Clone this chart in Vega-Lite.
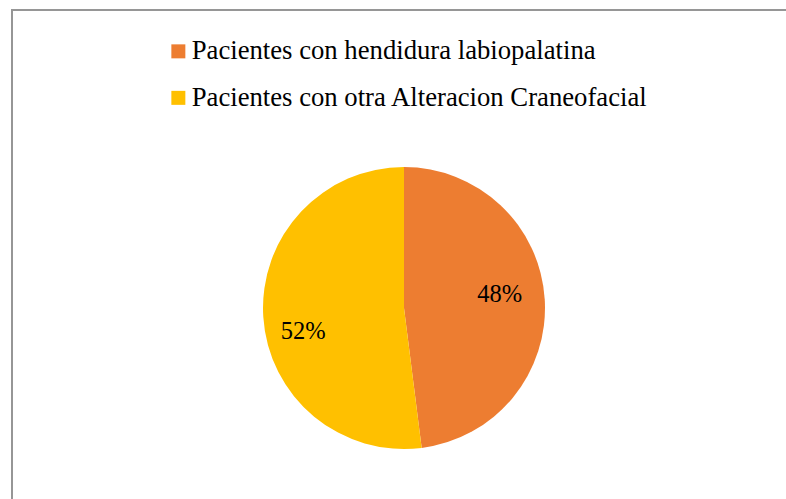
{
  "$schema": "https://vega.github.io/schema/vega-lite/v6.json",
  "autosize": {"type": "none"},
  "width": 784,
  "height": 596,
  "padding": {"left": 12, "top": 10, "right": -10, "bottom": -107},
  "background": "white",
  "view": {"stroke": "#969696", "strokeWidth": 2},
  "config": {
    "font": "Liberation Serif",
    "text": {"font": "Liberation Serif"}
  },
  "data": {
    "values": [
      {"categoria": "Pacientes con hendidura labiopalatina", "valor": 48, "etiqueta": "48%"},
      {"categoria": "Pacientes con otra Alteracion Craneofacial", "valor": 52, "etiqueta": "52%"}
    ]
  },
  "encoding": {
    "theta": {"field": "valor", "type": "quantitative", "stack": true},
    "order": {"field": "categoria", "sort": "ascending"}
  },
  "layer": [
    {
      "mark": {"type": "arc", "outerRadius": 141},
      "encoding": {
        "color": {
          "field": "categoria",
          "type": "nominal",
          "scale": {
            "domain": ["Pacientes con hendidura labiopalatina", "Pacientes con otra Alteracion Craneofacial"],
            "range": ["#ED7D31", "#FFC000"]
          },
          "legend": {
            "title": null,
            "orient": "none",
            "direction": "vertical",
            "legendX": 153,
            "legendY": 28,
            "padding": 0,
            "symbolType": "square",
            "symbolSize": 196,
            "symbolStrokeWidth": 0,
            "labelFont": "Liberation Serif",
            "labelFontSize": 26.7,
            "labelColor": "#000000",
            "labelOffset": 0,
            "labelLimit": 0,
            "rowPadding": 18.5
          }
        }
      }
    },
    {
      "mark": {"type": "text", "radius": 96, "dy": -7, "font": "Liberation Serif", "fontSize": 24.5, "color": "#000000", "align": "center", "baseline": "middle"},
      "encoding": {
        "detail": {"field": "categoria", "type": "nominal"},
        "text": {"condition": {"test": "datum.categoria === 'Pacientes con hendidura labiopalatina'", "field": "etiqueta"}, "value": ""}
      }
    },
    {
      "mark": {"type": "text", "radius": 101, "dy": 18, "font": "Liberation Serif", "fontSize": 24.5, "color": "#000000", "align": "center", "baseline": "middle"},
      "encoding": {
        "detail": {"field": "categoria", "type": "nominal"},
        "text": {"condition": {"test": "datum.categoria === 'Pacientes con otra Alteracion Craneofacial'", "field": "etiqueta"}, "value": ""}
      }
    }
  ]
}
